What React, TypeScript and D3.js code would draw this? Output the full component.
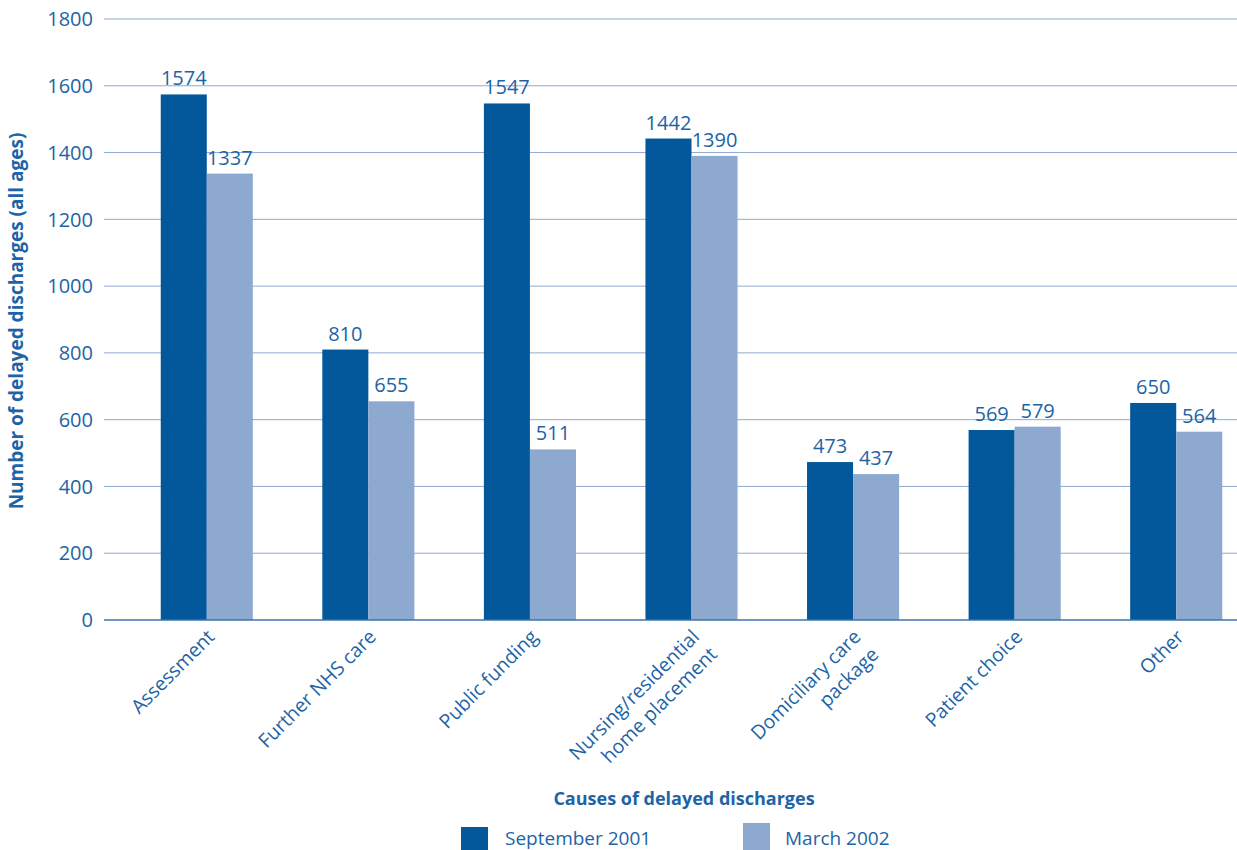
import React from "react";
import * as d3 from "d3";

const categories: string[][] = [
  ["Assessment"],
  ["Further NHS care"],
  ["Public funding"],
  ["Nursing/residential", "home placement"],
  ["Domiciliary care", "package"],
  ["Patient choice"],
  ["Other"],
];
const seriesNames = ["September 2001", "March 2002"];
const sep2001 = [1574, 810, 1547, 1442, 473, 569, 650];
const mar2002 = [1337, 655, 511, 1390, 437, 579, 564];
const yTicks = [0, 200, 400, 600, 800, 1000, 1200, 1400, 1600, 1800];

const W = 1237;
const H = 850;
const colors = ["#03589b", "#8da9d0"];
const textColor = "#1d64a6";
const font = "'Open Sans', 'DejaVu Sans', sans-serif";

export default function App() {
  const keys = categories.map((c) => c.join(" "));
  const x0 = d3
    .scaleBand<string>()
    .domain(keys)
    .range([126, 1257])
    .paddingInner(0.43)
    .paddingOuter(0.215);
  const x1 = d3
    .scaleBand<string>()
    .domain(seriesNames)
    .range([0, x0.bandwidth()]);
  const y = d3.scaleLinear().domain([0, 1800]).range([620, 19]);
  const series = [sep2001, mar2002];

  return (
    <svg
      width={W}
      height={H}
      style={{ position: "fixed", left: 0, top: 0, background: "#fff" }}
      fontFamily={font}
    >
      {yTicks.map((t) => (
        <g key={t}>
          {t > 0 && (
            <line x1={104} x2={W} y1={y(t)} y2={y(t)} stroke="#8faad2" strokeWidth={1} />
          )}
          <text x={93} y={y(t)} dy="0.36em" textAnchor="end" fontSize={20} fill={textColor}>
            {t}
          </text>
        </g>
      ))}
      {keys.map((k, i) => (
        <g key={k} transform={`translate(${x0(k)},0)`}>
          {seriesNames.map((s, j) => {
            const v = series[j][i];
            const bx = x1(s)!;
            return (
              <g key={s}>
                <rect x={bx} y={y(v)} width={x1.bandwidth()} height={620 - y(v)} fill={colors[j]} />
                <text
                  x={bx + x1.bandwidth() / 2}
                  y={y(v) - 9}
                  textAnchor="middle"
                  fontSize={20}
                  fill={textColor}
                >
                  {v}
                </text>
              </g>
            );
          })}
        </g>
      ))}
      <line x1={104} x2={W} y1={620} y2={620} stroke="#3a74ae" strokeWidth={1.5} />
      {categories.map((c, i) => {
        const cx = x0(keys[i])! + x0.bandwidth() / 2;
        return (
          <text
            key={keys[i]}
            transform={`translate(${cx + 9},${638}) rotate(-45)`}
            textAnchor="end"
            fontSize={19.5}
            fill={textColor}
          >
            {c.map((line, li) => (
              <tspan key={li} x={0} dy={li === 0 ? 0 : 25}>
                {line}
              </tspan>
            ))}
          </text>
        );
      })}
      <text
        transform={`translate(23,${321}) rotate(-90)`}
        textAnchor="middle"
        fontSize={19}
        fontWeight="bold"
        fill={textColor}
      >
        Number of delayed discharges (all ages)
      </text>
      <text x={684} y={805} textAnchor="middle" fontSize={18} fontWeight="bold" fill={textColor}>
        Causes of delayed discharges
      </text>
      <rect x={461} y={827} width={27} height={27} fill={colors[0]} />
      <text x={505} y={845} fontSize={19} fill={textColor}>
        {seriesNames[0]}
      </text>
      <rect x={743} y={823} width={27} height={27} fill={colors[1]} />
      <text x={785} y={845} fontSize={19} fill={textColor}>
        {seriesNames[1]}
      </text>
    </svg>
  );
}
